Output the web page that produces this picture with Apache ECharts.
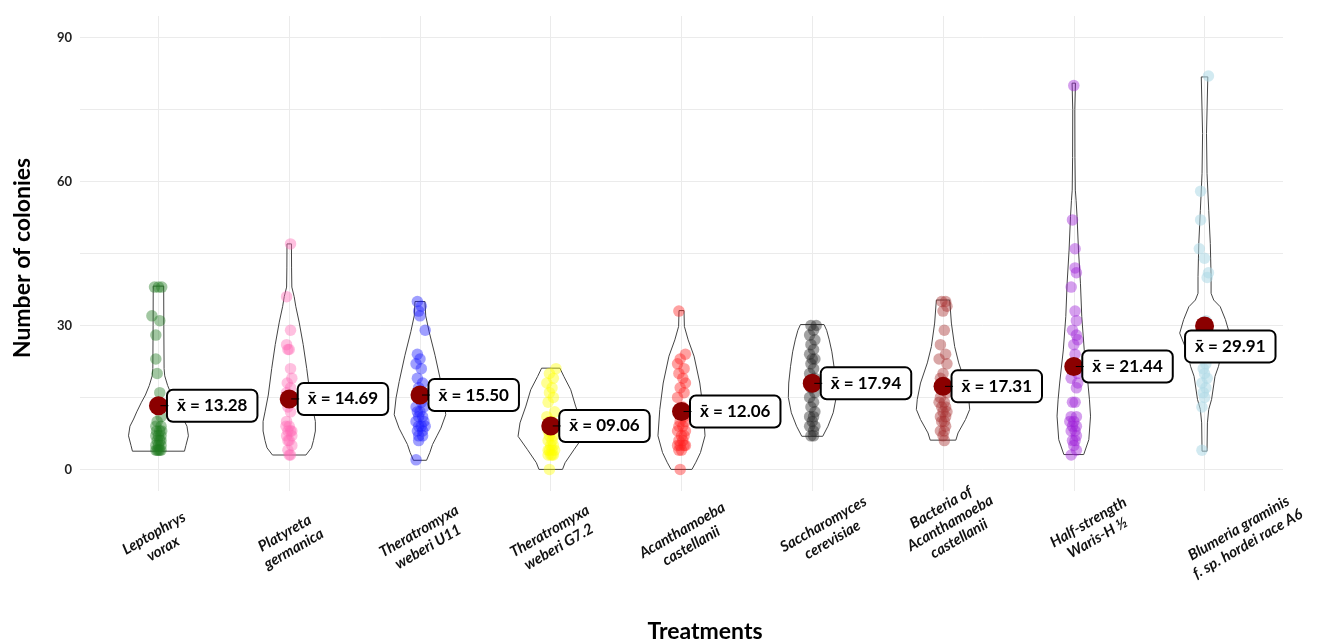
<!DOCTYPE html>
<html><head><meta charset="utf-8">
<script src="https://cdn.jsdelivr.net/npm/echarts@6/dist/echarts.min.js"></script>
<style>html,body{margin:0;padding:0;background:#fff}#c{width:1318px;height:644px}</style>
</head><body><div id="c"></div><script>
// ---------- data ----------
const categories = [
  'Leptophrys\nvorax',
  'Platyreta\ngermanica',
  'Theratromyxa\nweberi U11',
  'Theratromyxa\nweberi G7.2',
  'Acanthamoeba\ncastellanii',
  'Saccharomyces\ncerevisiae',
  'Bacteria of\nAcanthamoeba\ncastellanii',
  'Half-strength\nWaris-H ½',
  'Blumeria graminis\nf. sp. hordei race A6'
];
const means = [13.28, 14.69, 15.50, 9.06, 12.06, 17.94, 17.31, 21.44, 29.91];
const yTickLabels = [0, 30, 60, 90];
const yGridValues = [0, 15, 30, 45, 60, 75, 90];

// observations: [colonies, horizontal jitter (category units)]
const ptsLeptophrys = [[38,-0.03],[38,0],[38,0.025],[32,-0.05],[31,0.01],[28,-0.02],[23,-0.02],[20,-0.01],[16,0.01],[11,0.02],[10,-0.01],[9,0.02],[9,-0.02],[8,0.01],[8,-0.015],[8,0.025],[7,0],[7,-0.02],[7,0.02],[6,0.01],[6,-0.01],[6,0.02],[5,0],[5,-0.02],[5,0.02],[4,-0.01],[4,0.01],[4,0],[4,-0.02],[4,0.02]];
const ptsPlatyreta = [[47,0.01],[36,-0.02],[29,0.01],[26,-0.02],[25,0],[25,-0.01],[21,0.01],[19,0.02],[18,-0.015],[17,0.01],[16,-0.02],[15,0.02],[13,-0.01],[12,0.01],[10,-0.02],[9,0],[9,-0.025],[8,0.02],[8,-0.01],[8,0.01],[7,-0.02],[7,0.02],[6,0],[6,-0.01],[5,0.02],[4,-0.01],[3,0],[3,0.01]];
const ptsTheraU11 = [[35,-0.02],[34,0.01],[33,-0.01],[32,0],[29,0.04],[24,-0.02],[23,0],[22,-0.03],[21,0.01],[19,-0.02],[18,0.02],[17,-0.01],[16,0.03],[15,-0.02],[14,0.01],[13,-0.03],[13,0.03],[12,0],[12,-0.02],[11,0.02],[11,-0.01],[10,0.03],[10,-0.03],[9,0.01],[9,-0.01],[9,0.04],[8,0.02],[8,-0.02],[7,-0.01],[7,0.02],[6,-0.01],[2,-0.03]];
const ptsTheraG72 = [[21,0.04],[20,-0.01],[19,0.02],[18,-0.03],[17,0.01],[16,-0.01],[15,0.02],[14,-0.02],[12,0.03],[11,-0.03],[10,0.01],[10,-0.01],[9,0.02],[8,0],[8,-0.02],[7,0.02],[7,-0.01],[6,0.01],[6,-0.02],[5,0.02],[5,0],[4,-0.01],[4,0.01],[4,0.03],[4,-0.02],[3,0],[3,0.02],[3,-0.02],[3,0.01],[0,-0.01]];
const ptsAcanth = [[33,-0.02],[24,0.03],[23,-0.01],[22,-0.03],[21,0.02],[20,-0.02],[19,0.01],[18,0.03],[17,-0.01],[16,0.02],[15,-0.03],[13,0.01],[12,-0.02],[11,0.02],[10,-0.01],[10,0.03],[9,-0.02],[9,0.01],[8,0.03],[8,-0.03],[7,0],[7,0.02],[6,-0.02],[6,0.01],[5,0.03],[5,-0.01],[5,-0.03],[5,0.02],[4,0],[4,-0.02],[0,-0.01]];
const ptsSacch = [[30,0.03],[30,-0.01],[29,0.01],[28,-0.02],[27,0.02],[26,-0.01],[25,0.01],[24,-0.02],[23,0],[23,0.02],[22,-0.01],[21,0.01],[20,-0.02],[19,0.02],[18,0],[17,-0.01],[16,0.02],[15,-0.02],[14,0.01],[13,-0.01],[12,0.02],[11,-0.02],[11,0.01],[10,0],[9,0.02],[9,-0.02],[8,0.01],[7,-0.01],[7,0.01]];
const ptsBacteria = [[35,-0.01],[35,0.02],[34,0.03],[33,0],[29,0.01],[26,-0.02],[24,0.02],[23,-0.03],[22,0.03],[20,0],[19,-0.02],[18,0.02],[17,-0.01],[16,0.03],[15,-0.02],[14,0.01],[14,-0.03],[13,0.02],[13,-0.01],[12,0],[12,0.03],[11,-0.02],[11,0.02],[10,-0.01],[10,0.01],[9,0.02],[8,-0.02],[8,0.01],[7,0],[6,0.01]];
const ptsWaris = [[80,0],[52,-0.01],[46,0.01],[42,0.01],[41,0.02],[38,-0.02],[33,0.01],[31,0.02],[29,-0.01],[28,0.02],[27,0.03],[26,0],[24,0.01],[22,-0.01],[21,0.02],[20,0.03],[19,-0.02],[18,0.03],[17,0.02],[14,-0.01],[14,0.01],[11,-0.02],[11,0.02],[10,0],[10,-0.03],[9,0.02],[9,-0.01],[8,0.01],[8,-0.02],[7,0.02],[6,-0.01],[6,0.01],[5,0],[4,0.02],[3,-0.02]];
const ptsBlumeria = [[82,0.03],[58,-0.03],[52,-0.03],[46,-0.04],[44,0],[41,0.03],[40,0.02],[31,0.01],[28,-0.01],[27,0.02],[25,-0.02],[24,0.01],[22,0.01],[21,-0.01],[20,0],[19,0.02],[18,-0.02],[17,0.01],[16,-0.01],[15,0],[13,-0.02],[4,-0.02]];

// violin outlines: [colonies, half width (category units)]
const vioLeptophrys = [[3.8,0.199],[5,0.21],[7,0.229],[9,0.218],[10.5,0.19],[12,0.166],[14,0.13],[15.5,0.1],[17.5,0.07],[19.5,0.048],[21,0.043],[30,0.041],[38.2,0.04]];
const vioPlatyreta = [[3,0.128],[4.5,0.17],[6,0.185],[8,0.2],[10,0.2],[12,0.185],[15.5,0.16],[21,0.134],[26,0.107],[30.7,0.076],[34,0.05],[36,0.038],[38,0.02],[42,0.018],[47,0.017]];
const vioTheraU11 = [[1.9,0.05],[3.5,0.075],[5.2,0.096],[7,0.13],[8.6,0.16],[11.4,0.197],[14.9,0.183],[18.3,0.159],[23.8,0.115],[28.7,0.07],[32,0.044],[35,0.038]];
const vioTheraG72 = [[0,0.09],[1.4,0.11],[4.2,0.18],[6.9,0.25],[9.7,0.235],[13.2,0.19],[16.6,0.153],[19.4,0.1],[21.1,0.07]];
const vioAcanth = [[0,0.08],[1.5,0.11],[3.5,0.145],[7,0.18],[12.5,0.166],[18,0.14],[23.6,0.096],[27,0.051],[29.8,0.022],[33.1,0.019]];
const vioSacch = [[6.9,0.08],[9,0.12],[11.8,0.16],[15,0.183],[18,0.18],[21.5,0.166],[24.5,0.15],[27,0.13],[29,0.11],[30.2,0.09]];
const vioBacteria = [[6.1,0.098],[7.6,0.115],[10.4,0.172],[12.5,0.204],[14.6,0.197],[18,0.172],[22.2,0.12],[25.6,0.089],[30.5,0.064],[35.3,0.051]];
const vioWaris = [[3.1,0.076],[6.2,0.115],[11.1,0.128],[14.5,0.12],[18,0.108],[24.9,0.08],[31.9,0.061],[38.8,0.051],[45.7,0.036],[52.7,0.025],[56,0.018],[58.2,0.012],[65,0.009],[75,0.008],[80.5,0.013]];
const vioBlumeria = [[3.8,0.019],[9.7,0.022],[12.5,0.032],[14.6,0.054],[19.4,0.08],[21.5,0.107],[24.3,0.13],[28.4,0.19],[31.2,0.16],[33.9,0.12],[35.3,0.07],[36.7,0.05],[40.2,0.05],[47.1,0.044],[54,0.032],[61.7,0.019],[70,0.015],[81.8,0.025]];

// ---------- styling ----------
const groupPoints = [ptsLeptophrys, ptsPlatyreta, ptsTheraU11, ptsTheraG72, ptsAcanth, ptsSacch, ptsBacteria, ptsWaris, ptsBlumeria];
const violins = [vioLeptophrys, vioPlatyreta, vioTheraU11, vioTheraG72, vioAcanth, vioSacch, vioBacteria, vioWaris, vioBlumeria];
const colors = ['#1f7a1f', '#ff69b4', '#1a1aff', '#ffff00', '#ff2020', '#222222', '#a52a2a', '#9a1ad6', '#add8e6'];
// per-label nudges (px, rotated text frame): left padding along the text, spacer line above / below
const labelAlong = [0, 0, 8, 8, 12, 36, 30, 44, 72];
const labelDown  = [0, 0, 0, 0, 0, 0, 0, 0, 30];
const labelUp    = [0, 0, 0, 0, 0, 0, 24, 0, 0];
const FONT = 'Lato, "Open Sans", sans-serif';
const fmt = v => v.toFixed(2).padStart(5, '0');

const richStyles = {};
categories.forEach((c, i) => {
  richStyles['t' + i] = {
    padding: [0, 0, 0, labelAlong[i]],
    fontFamily: FONT, fontStyle: 'italic', fontWeight: 'bold', fontSize: 15, lineHeight: 18, color: '#111'
  };
  richStyles['d' + i] = {fontSize: 1, lineHeight: Math.max(labelDown[i], 1)};
  richStyles['u' + i] = {fontSize: 1, lineHeight: Math.max(labelUp[i], 1)};
});

const chart = echarts.init(document.getElementById('c'), null, {renderer: 'canvas'});

const series = [];
series.push({
  type: 'custom', z: 1, silent: true, clip: false,
  data: categories.map((c, i) => [i + 1, means[i]]),
  renderItem: function (params, api) {
    const k = params.dataIndex, prof = violins[k], cx = k + 1;
    const pts = [];
    prof.forEach(p => pts.push(api.coord([cx - p[1], p[0]])));
    for (let i = prof.length - 1; i >= 0; i--) pts.push(api.coord([cx + prof[i][1], prof[i][0]]));
    return {type: 'polygon', shape: {points: pts}, style: {fill: 'rgba(255,255,255,0)', stroke: '#444', lineWidth: 1}};
  }
});
groupPoints.forEach((pts, i) => {
  series.push({
    type: 'scatter', z: 2, silent: true,
    symbolSize: 11.5,
    itemStyle: {color: colors[i], opacity: i === 8 ? 0.55 : 0.42},
    data: pts.map(p => [i + 1 + p[1], p[0]])
  });
});
series.push({
  type: 'scatter', z: 5, silent: true,
  symbolSize: 19,
  itemStyle: {color: '#8b0000', opacity: 1},
  data: means.map((m, i) => {
    const d = {value: [i + 1, m]};
    if (i === 8) d.label = {position: [-9, 15]};
    return d;
  }),
  label: {
    show: true, position: 'right', distance: 0,
    formatter: p => 'x\u0304 = ' + fmt(p.value[1]),
    backgroundColor: '#fff', borderColor: '#000', borderWidth: 2, borderRadius: 5,
    padding: [5, 9, 5, 9], fontFamily: FONT, fontWeight: 'bold', fontSize: 17, lineHeight: 20, color: '#000'
  }
});
// short leader segments from each mean to its label
series.push({
  type: 'custom', z: 6, silent: true, clip: false,
  data: means.map((m, i) => [i + 1, m]).slice(0, 8),
  renderItem: function (params, api) {
    const c = api.coord([api.value(0), api.value(1)]);
    return {type: 'line', shape: {x1: c[0] + 2, y1: c[1], x2: c[0] + 10, y2: c[1]}, style: {stroke: '#000', lineWidth: 1}};
  }
});

chart.setOption({
  backgroundColor: '#fff',
  animation: false,
  grid: {left: 80, right: 35, top: 16, bottom: 153, outerBoundsMode: 'none', containLabel: false},
  xAxis: {
    type: 'value', min: 0.4, max: 9.6,
    axisLine: {show: false},
    axisTick: {show: false, customValues: [1, 2, 3, 4, 5, 6, 7, 8, 9]},
    splitLine: {show: true, lineStyle: {color: '#ebebeb', width: 1}},
    axisLabel: {
      customValues: [1, 2, 3, 4, 5, 6, 7, 8, 9],
      formatter: v => {
        const i = Math.round(v) - 1;
        let parts = categories[i].split('\n').map(l => '{t' + i + '|' + l + '}');
        if (labelDown[i]) parts.unshift('{d' + i + '| }');
        if (labelUp[i]) parts.push('{u' + i + '| }');
        return parts.join('\n');
      },
      rich: richStyles,
      rotate: 30, align: 'center', verticalAlign: 'middle', margin: 50,
      fontFamily: FONT, fontStyle: 'italic', fontWeight: 'bold', fontSize: 15, lineHeight: 18, color: '#111'
    }
  },
  yAxis: {
    type: 'value', min: -4.5, max: 94.5,
    axisLine: {show: false},
    axisTick: {show: false, customValues: yGridValues},
    splitLine: {show: true, lineStyle: {color: '#ebebeb', width: 1}},
    axisLabel: {customValues: yTickLabels, margin: 8, fontFamily: FONT, fontWeight: 'bold', fontSize: 13, color: '#222'}
  },
  graphic: [
    {type: 'text', x: 23, y: 258, rotation: Math.PI / 2,
     style: {text: 'Number of colonies', fontFamily: FONT, fontWeight: 'bold', fontSize: 23, fill: '#000', align: 'center', verticalAlign: 'middle'}},
    {type: 'text', x: 705, y: 632,
     style: {text: 'Treatments', fontFamily: FONT, fontWeight: 'bold', fontSize: 23, fill: '#000', align: 'center', verticalAlign: 'middle'}}
  ],
  series: series
});
</script></body></html>
